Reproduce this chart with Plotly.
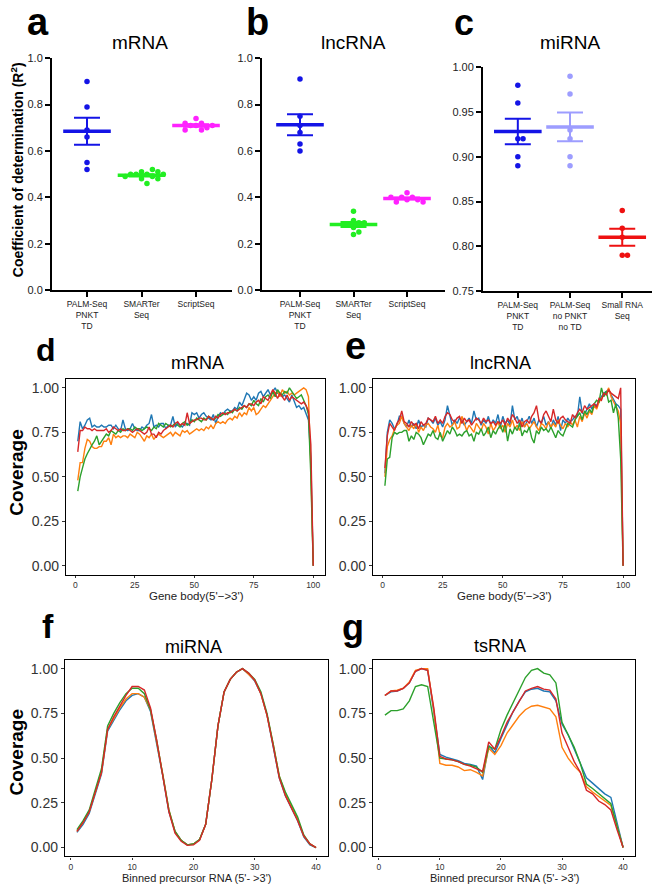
import plotly.graph_objects as go
import numpy as np

W, H = 654, 885

# ---------------- Panel a-c data (R^2) ----------------
cats_ab = ["PALM-Seq<br>PNKT<br>TD", "SMARTer<br>Seq", "ScriptSeq"]
cats_c = ["PALM-Seq<br>PNKT<br>TD", "PALM-Seq<br>no PNKT<br>no TD", "Small RNA<br>Seq"]

a_palm = [0.90, 0.79, 0.69, 0.66, 0.55, 0.52]
a_smarter = [0.51, 0.50, 0.50, 0.49, 0.48, 0.52, 0.46, 0.50, 0.51, 0.49, 0.50, 0.48]
a_script = [0.74, 0.72, 0.71, 0.71, 0.70, 0.69, 0.69, 0.71, 0.72]

b_palm = [0.91, 0.75, 0.71, 0.68, 0.63, 0.60]
b_smarter = [0.34, 0.30, 0.29, 0.28, 0.27, 0.25, 0.24, 0.29]
b_script = [0.42, 0.40, 0.40, 0.39, 0.39, 0.38, 0.38, 0.40]

c_palm = [0.98, 0.96, 0.92, 0.92, 0.90, 0.89]
c_palm_no = [0.99, 0.97, 0.93, 0.92, 0.90, 0.89]
c_small = [0.84, 0.82, 0.81, 0.79, 0.79]

dot_colors_ab = ["#1414e6", "#22ee22", "#ff22ff"]
dot_colors_c = ["#1414e6", "#9d9dff", "#ee1111"]

# ---------------- Panel d-g data (coverage) ----------------
d_blue = [0.70, 0.81, 0.77, 0.79, 0.82, 0.83, 0.78, 0.79, 0.78, 0.78,
          0.79, 0.78, 0.78, 0.79, 0.79, 0.77, 0.79, 0.77, 0.76, 0.82,
          0.77, 0.76, 0.77, 0.80, 0.77, 0.76, 0.76, 0.78, 0.77, 0.79,
          0.80, 0.85, 0.78, 0.79, 0.78, 0.80, 0.80, 0.77, 0.79, 0.79,
          0.84, 0.78, 0.80, 0.79, 0.78, 0.80, 0.80, 0.79, 0.86, 0.85,
          0.86, 0.83, 0.85, 0.86, 0.84, 0.83, 0.82, 0.85, 0.80, 0.84,
          0.86, 0.85, 0.87, 0.88, 0.87, 0.87, 0.89, 0.88, 0.92, 0.90,
          0.93, 0.97, 0.96, 0.93, 0.95, 0.93, 0.97, 0.98, 0.95, 0.97,
          0.99, 0.96, 0.98, 1.00, 0.97, 0.97, 0.95, 0.96, 0.94, 0.92,
          0.96, 0.93, 0.89, 0.90, 0.88, 0.89, 0.86, 0.82, 0.60, 0.00]
d_red = [0.64, 0.76, 0.76, 0.78, 0.77, 0.77, 0.76, 0.77, 0.76, 0.76,
         0.76, 0.76, 0.77, 0.75, 0.76, 0.78, 0.77, 0.76, 0.77, 0.76,
         0.76, 0.77, 0.76, 0.75, 0.76, 0.77, 0.76, 0.75, 0.74, 0.75,
         0.78, 0.74, 0.74, 0.72, 0.75, 0.74, 0.76, 0.77, 0.78, 0.79,
         0.78, 0.80, 0.81, 0.79, 0.80, 0.79, 0.86, 0.80, 0.81, 0.82,
         0.82, 0.83, 0.83, 0.82, 0.82, 0.84, 0.83, 0.82, 0.84, 0.83,
         0.85, 0.86, 0.85, 0.86, 0.86, 0.87, 0.88, 0.87, 0.88, 0.89,
         0.90, 0.89, 0.91, 0.91, 0.90, 0.92, 0.93, 0.91, 0.95, 0.94,
         0.93, 0.96, 0.99, 0.97, 0.94, 0.97, 0.95, 0.93, 0.96, 0.93,
         0.95, 0.94, 0.93, 0.92, 0.91, 0.92, 0.90, 0.87, 0.68, 0.00]
d_orange = [0.48, 0.58, 0.58, 0.66, 0.71, 0.70, 0.67, 0.66, 0.66, 0.67,
            0.67, 0.70, 0.70, 0.72, 0.68, 0.74, 0.72, 0.73, 0.72, 0.73,
            0.73, 0.72, 0.74, 0.73, 0.72, 0.75, 0.74, 0.72, 0.70, 0.73,
            0.72, 0.74, 0.71, 0.73, 0.74, 0.73, 0.72, 0.73, 0.74, 0.75,
            0.73, 0.75, 0.74, 0.73, 0.76, 0.75, 0.76, 0.74, 0.75, 0.76,
            0.77, 0.76, 0.77, 0.76, 0.78, 0.77, 0.79, 0.77, 0.80, 0.81,
            0.80, 0.81, 0.80, 0.82, 0.83, 0.82, 0.84, 0.83, 0.86, 0.84,
            0.86, 0.85, 0.89, 0.87, 0.89, 0.85, 0.86, 0.88, 0.90, 0.89,
            0.91, 0.93, 0.95, 0.97, 0.98, 0.95, 0.99, 0.97, 0.98, 0.96,
            0.97, 0.96, 0.97, 0.98, 0.99, 1.00, 0.99, 0.95, 0.55, 0.00]
d_green = [0.42, 0.50, 0.55, 0.60, 0.63, 0.66, 0.68, 0.70, 0.73, 0.68,
           0.70, 0.72, 0.74, 0.73, 0.76, 0.75, 0.74, 0.76, 0.75, 0.77,
           0.76, 0.77, 0.77, 0.76, 0.78, 0.77, 0.77, 0.76, 0.77, 0.78,
           0.77, 0.76, 0.78, 0.77, 0.80, 0.79, 0.78, 0.80, 0.79, 0.78,
           0.79, 0.80, 0.79, 0.78, 0.80, 0.81, 0.79, 0.80, 0.82, 0.81,
           0.83, 0.82, 0.81, 0.83, 0.82, 0.84, 0.83, 0.82, 0.83, 0.85,
           0.84, 0.85, 0.86, 0.85, 0.87, 0.86, 0.88, 0.87, 0.89, 0.88,
           0.90, 0.89, 0.91, 0.90, 0.93, 0.91, 0.90, 0.94, 0.92, 0.95,
           0.96, 0.94, 0.98, 0.95, 0.99, 0.97, 0.96, 0.98, 0.97, 1.00,
           0.98, 0.96, 0.94, 0.95, 0.96, 0.93, 0.90, 0.85, 0.50, 0.00]

e_blue = [0.52, 0.75, 0.82, 0.80, 0.77, 0.79, 0.84, 0.84, 0.80, 0.78,
          0.82, 0.78, 0.80, 0.77, 0.82, 0.78, 0.79, 0.78, 0.83, 0.82,
          0.80, 0.83, 0.79, 0.81, 0.78, 0.82, 0.90, 0.84, 0.79, 0.82,
          0.80, 0.83, 0.82, 0.79, 0.81, 0.83, 0.80, 0.87, 0.82, 0.83,
          0.79, 0.82, 0.80, 0.84, 0.79, 0.82, 0.80, 0.85, 0.78, 0.84,
          0.80, 0.82, 0.79, 0.90, 0.82, 0.84, 0.79, 0.83, 0.78, 0.81,
          0.84, 0.80, 0.83, 0.78, 0.82, 0.80, 0.84, 0.79, 0.81, 0.77,
          0.82, 0.79, 0.84, 0.76, 0.82, 0.80, 0.83, 0.81, 0.82, 0.84,
          0.84, 0.95, 0.86, 0.85, 0.88, 0.91, 0.88, 0.91, 0.90, 0.93,
          0.95, 0.97, 0.98, 0.99, 0.96, 0.93, 0.91, 0.90, 0.88, 0.00]
e_red = [0.55, 0.73, 0.80, 0.78, 0.76, 0.80, 0.82, 0.87, 0.81, 0.80,
         0.78, 0.81, 0.79, 0.80, 0.77, 0.81, 0.79, 0.80, 0.83, 0.82,
         0.81, 0.84, 0.80, 0.82, 0.80, 0.84, 0.86, 0.85, 0.82, 0.81,
         0.83, 0.84, 0.80, 0.83, 0.81, 0.82, 0.79, 0.81, 0.83, 0.82,
         0.80, 0.83, 0.81, 0.82, 0.80, 0.81, 0.79, 0.81, 0.80, 0.82,
         0.79, 0.83, 0.81, 0.85, 0.83, 0.80, 0.82, 0.78, 0.81, 0.82,
         0.80, 0.84, 0.86, 0.90, 0.82, 0.80, 0.85, 0.87, 0.84, 0.81,
         0.88, 0.82, 0.80, 0.83, 0.84, 0.82, 0.81, 0.80, 0.85, 0.83,
         0.86, 0.88, 0.86, 0.90, 0.88, 0.89, 0.90, 0.91, 0.89, 0.94,
         0.93, 0.97, 0.96, 0.99, 0.97, 0.96, 0.95, 0.94, 1.00, 0.00]
e_orange = [0.50, 0.67, 0.71, 0.73, 0.77, 0.79, 0.80, 0.84, 0.80, 0.78,
            0.76, 0.79, 0.77, 0.80, 0.75, 0.78, 0.76, 0.79, 0.80, 0.78,
            0.77, 0.75, 0.79, 0.73, 0.72, 0.78, 0.80, 0.78, 0.79, 0.81,
            0.77, 0.78, 0.84, 0.80, 0.76, 0.79, 0.77, 0.75, 0.80, 0.78,
            0.76, 0.80, 0.78, 0.74, 0.80, 0.76, 0.78, 0.81, 0.77, 0.79,
            0.75, 0.80, 0.78, 0.82, 0.77, 0.79, 0.76, 0.81, 0.78, 0.80,
            0.77, 0.79, 0.81, 0.78, 0.76, 0.80, 0.79, 0.77, 0.81, 0.78,
            0.80, 0.78, 0.82, 0.79, 0.77, 0.80, 0.78, 0.81, 0.79, 0.82,
            0.78, 0.84, 0.81, 0.86, 0.83, 0.87, 0.85, 0.90, 0.88, 0.92,
            0.94, 0.96, 0.97, 1.00, 0.95, 0.92, 0.90, 0.87, 0.80, 0.00]
e_green = [0.45, 0.60, 0.61, 0.72, 0.75, 0.74, 0.75, 0.75, 0.76, 0.76,
           0.70, 0.73, 0.71, 0.75, 0.74, 0.72, 0.68, 0.71, 0.74, 0.73,
           0.76, 0.72, 0.71, 0.75, 0.70, 0.73, 0.76, 0.74, 0.78, 0.76,
           0.73, 0.74, 0.73, 0.75, 0.76, 0.73, 0.74, 0.70, 0.75, 0.74,
           0.77, 0.73, 0.75, 0.78, 0.72, 0.76, 0.74, 0.77, 0.79, 0.75,
           0.80, 0.70, 0.77, 0.74, 0.78, 0.76, 0.80, 0.73, 0.76, 0.75,
           0.78, 0.72, 0.69, 0.76, 0.74, 0.78, 0.76, 0.77, 0.75, 0.78,
           0.75, 0.72, 0.76, 0.74, 0.73, 0.77, 0.80, 0.79, 0.78, 0.82,
           0.84, 0.86, 0.82, 0.87, 0.85, 0.88, 0.86, 0.91, 0.93, 0.92,
           1.00, 0.95, 0.98, 0.92, 0.93, 0.86, 0.91, 0.83, 0.60, 0.00]

f_blue = [0.085, 0.13, 0.19, 0.30, 0.41, 0.65, 0.71, 0.77, 0.82, 0.85,
          0.86, 0.84, 0.76, 0.59, 0.40, 0.20, 0.09, 0.04, 0.015, 0.02,
          0.045, 0.13, 0.38, 0.68, 0.87, 0.94, 0.98, 1.00, 0.97, 0.93,
          0.86, 0.74, 0.57, 0.39, 0.29, 0.22, 0.15, 0.06, 0.015, 0.00]
f_orange = [0.09, 0.14, 0.20, 0.31, 0.42, 0.66, 0.72, 0.78, 0.83, 0.86,
            0.86, 0.84, 0.77, 0.60, 0.41, 0.21, 0.09, 0.04, 0.015, 0.02,
            0.045, 0.13, 0.38, 0.68, 0.87, 0.94, 0.98, 1.00, 0.97, 0.935,
            0.86, 0.74, 0.58, 0.40, 0.30, 0.23, 0.16, 0.065, 0.02, 0.00]
f_green = [0.10, 0.15, 0.21, 0.33, 0.44, 0.68, 0.75, 0.81, 0.86, 0.89,
           0.89, 0.86, 0.77, 0.60, 0.40, 0.21, 0.09, 0.04, 0.015, 0.02,
           0.045, 0.13, 0.38, 0.68, 0.87, 0.94, 0.98, 1.00, 0.975, 0.94,
           0.87, 0.75, 0.58, 0.40, 0.31, 0.24, 0.17, 0.07, 0.02, 0.00]
f_red = [0.09, 0.14, 0.20, 0.31, 0.42, 0.66, 0.73, 0.79, 0.85, 0.90,
         0.90, 0.88, 0.78, 0.60, 0.40, 0.20, 0.08, 0.035, 0.012, 0.015,
         0.04, 0.13, 0.38, 0.68, 0.87, 0.94, 0.98, 1.00, 0.975, 0.935,
         0.86, 0.74, 0.57, 0.39, 0.29, 0.22, 0.15, 0.065, 0.02, 0.00]

g_blue = [0.85, 0.87, 0.875, 0.89, 0.92, 0.985, 1.00, 0.99, 0.76, 0.52,
          0.505, 0.495, 0.485, 0.47, 0.465, 0.455, 0.38, 0.57, 0.53, 0.61,
          0.69, 0.76, 0.82, 0.87, 0.885, 0.89, 0.875, 0.87, 0.82, 0.69,
          0.63, 0.55, 0.47, 0.39, 0.36, 0.33, 0.30, 0.28, 0.14, 0.00]
g_orange = [0.85, 0.875, 0.88, 0.89, 0.925, 0.99, 1.00, 1.00, 0.77, 0.47,
            0.46, 0.46, 0.45, 0.43, 0.435, 0.42, 0.40, 0.555, 0.52, 0.57,
            0.64, 0.69, 0.735, 0.77, 0.79, 0.795, 0.785, 0.775, 0.73, 0.56,
            0.50, 0.455, 0.42, 0.34, 0.31, 0.285, 0.26, 0.235, 0.12, 0.00]
g_green = [0.74, 0.765, 0.765, 0.775, 0.82, 0.90, 0.91, 0.90, 0.70, 0.50,
           0.495, 0.49, 0.48, 0.465, 0.46, 0.45, 0.42, 0.565, 0.55, 0.66,
           0.74, 0.81, 0.88, 0.95, 0.99, 1.00, 0.975, 0.965, 0.92, 0.70,
           0.63, 0.56, 0.47, 0.355, 0.33, 0.30, 0.27, 0.245, 0.12, 0.00]
g_red = [0.85, 0.875, 0.875, 0.89, 0.92, 0.985, 1.00, 0.99, 0.78, 0.51,
         0.495, 0.49, 0.48, 0.465, 0.455, 0.44, 0.425, 0.59, 0.55, 0.62,
         0.70, 0.76, 0.82, 0.875, 0.89, 0.90, 0.885, 0.88, 0.83, 0.64,
         0.56, 0.48, 0.42, 0.32, 0.30, 0.26, 0.24, 0.21, 0.10, 0.00]

line_colors = {"blue": "#1f77b4", "orange": "#ff7f0e", "green": "#2ca02c", "red": "#d62728"}

FONT = "Arial, Liberation Sans, Helvetica, sans-serif"


def fx(px):
    return px / W


def fy(py):
    # empirical correction of vertical placement in the rendered page
    py = (py - 5.7) / 0.9874
    return 1 - py / H


def swarm(vals, dy, dx):
    placed, xs = [], []
    for v in vals:
        chosen = 0.0
        for k in [0, 1, -1, 2, -2, 3, -3, 4, -4, 5, -5]:
            c = k * dx
            if all(not (abs(c - px) < dx * 0.999 and abs(v - pv) < dy) for px, pv in placed):
                chosen = c
                break
        placed.append((chosen, v))
        xs.append(chosen)
    return xs


fig = go.Figure()
layout = {}

# ---------------- dot panels ----------------
dot_panels = [
    (1, [a_palm, a_smarter, a_script], dot_colors_ab, cats_ab, (52, 232), (58, 290), [0, 1],
     [0, 0.2, 0.4, 0.6, 0.8, 1.0], ".1f", (-0.642, 2.66)),
    (2, [b_palm, b_smarter, b_script], dot_colors_ab, cats_ab, (262, 445), (58, 290), [0, 1],
     [0, 0.2, 0.4, 0.6, 0.8, 1.0], ".1f", (-0.71, 2.71)),
    (3, [c_palm, c_palm_no, c_small], dot_colors_c, cats_c, (483, 652), (67, 291), [0.75, 1.0],
     [0.75, 0.80, 0.85, 0.90, 0.95, 1.00], ".2f", (-0.667, 2.57)),
]

for idx, groups, cols, cats, xd, yd, yr, tv, fmt, xr in dot_panels:
    xa = "x" if idx == 1 else f"x{idx}"
    ya = "y" if idx == 1 else f"y{idx}"
    span = yr[1] - yr[0]
    for i, (vals, col) in enumerate(zip(groups, cols)):
        offs = swarm(vals, dy=span * 0.022, dx=0.1)
        fig.add_trace(go.Scatter(
            x=[i + o for o in offs], y=vals, mode="markers", xaxis=xa, yaxis=ya,
            marker=dict(color=col, size=5.5, line=dict(width=0)), showlegend=False))
        arr = np.array(vals)
        m = arr.mean()
        sem = arr.std(ddof=1) / np.sqrt(len(arr))
        fig.add_trace(go.Scatter(
            x=[i], y=[m], mode="markers", xaxis=xa, yaxis=ya,
            marker=dict(symbol="line-ew", size=34, color=col, line=dict(width=3.5, color=col)),
            error_y=dict(type="data", array=[sem], visible=True, color=col, thickness=2, width=13),
            showlegend=False))
    xkey = "xaxis" if idx == 1 else f"xaxis{idx}"
    ykey = "yaxis" if idx == 1 else f"yaxis{idx}"
    layout[xkey] = dict(domain=[fx(xd[0]), fx(xd[1])], anchor=ya, range=list(xr),
                        tickvals=[0, 1, 2], ticktext=cats, ticks="outside", ticklen=5,
                        tickwidth=1.5, tickcolor="black", showline=True, linecolor="black",
                        linewidth=2, showgrid=False, zeroline=False,
                        tickfont=dict(size=8.5, color="#222", family=FONT))
    layout[ykey] = dict(domain=[fy(yd[1]), fy(yd[0])], anchor=xa, range=yr, tickvals=tv,
                        tickformat=fmt, ticks="outside", ticklen=5, tickwidth=1.5,
                        tickcolor="black", showline=True, linecolor="black", linewidth=2,
                        showgrid=False, zeroline=False,
                        tickfont=dict(size=11, color="#222", family=FONT))

# ---------------- coverage panels ----------------
cov_panels = [
    (4, {"blue": d_blue, "orange": d_orange, "green": d_green, "red": d_red},
     (66, 325), (379, 575), [-3.95, 104.95], [0, 25, 50, 75, 100]),
    (5, {"blue": e_blue, "orange": e_orange, "green": e_green, "red": e_red},
     (373, 635), (379, 575), [-3.95, 104.95], [0, 25, 50, 75, 100]),
    (6, {"blue": f_blue, "orange": f_orange, "green": f_green, "red": f_red},
     (65, 328), (660, 857), [-0.95, 41.95], [0, 10, 20, 30, 40]),
    (7, {"blue": g_blue, "orange": g_orange, "green": g_green, "red": g_red},
     (373, 635), (660, 857), [-0.95, 41.95], [0, 10, 20, 30, 40]),
]

for idx, series, xd, yd, xr, xtv in cov_panels:
    xa, ya = f"x{idx}", f"y{idx}"
    for name in ["blue", "orange", "green", "red"]:
        vals = series[name]
        fig.add_trace(go.Scatter(
            x=list(range(1, len(vals) + 1)), y=vals, mode="lines", xaxis=xa, yaxis=ya,
            line=dict(color=line_colors[name], width=1.4), showlegend=False))
    layout[f"xaxis{idx}"] = dict(domain=[fx(xd[0]), fx(xd[1])], anchor=ya, range=xr,
                                 tickvals=xtv, ticks="outside", ticklen=2, tickcolor="#333",
                                 showline=True, mirror=True, linecolor="black", linewidth=1.3,
                                 showgrid=False, zeroline=False,
                                 tickfont=dict(size=8.5, color="#333", family=FONT))
    layout[f"yaxis{idx}"] = dict(domain=[fy(yd[1]), fy(yd[0])], anchor=xa, range=[-0.05, 1.05],
                                 tickvals=[0, 0.25, 0.5, 0.75, 1.0], tickformat=".2f",
                                 ticks="outside", ticklen=3, tickcolor="#333",
                                 showline=True, mirror=True, linecolor="black", linewidth=1.3,
                                 showgrid=False, zeroline=False,
                                 tickfont=dict(size=14, color="#333", family=FONT))

# ---------------- annotations ----------------
ann = []


def text(t, x, y, size, bold=False, angle=0, xanchor="center", yanchor="middle", color="black"):
    ann.append(dict(text=f"<b>{t}</b>" if bold else t, x=fx(x), y=fy(y), xref="paper",
                    yref="paper", showarrow=False, textangle=angle, xanchor=xanchor,
                    yanchor=yanchor, font=dict(size=size, color=color, family=FONT)))


# panel letters
for letter, x, y, s in [("a", 38, 22, 38), ("b", 257, 22, 38), ("c", 464, 22, 36),
                        ("d", 46, 350, 32), ("e", 355, 346, 38), ("f", 48, 626, 34),
                        ("g", 353, 628, 36)]:
    text(letter, x, y, s, bold=True)

# titles
for t, x, y, s in [("mRNA", 140, 42, 19), ("lncRNA", 353, 42, 19), ("miRNA", 570, 42, 19),
                   ("mRNA", 197, 363, 18), ("lncRNA", 500, 363, 18),
                   ("miRNA", 193, 647, 18), ("tsRNA", 500, 646, 18)]:
    text(t, x, y, s)

# y-axis titles
text("Coefficient of determination (R<sup>2</sup>)", 17, 170, 14, bold=True, angle=-90)
text("Coverage", 17, 473, 19, bold=True, angle=-90)
text("Coverage", 17, 753, 19, bold=True, angle=-90)

# x-axis titles
text("Gene body(5'\u2212>3')", 196, 596, 11.5, color="#222")
text("Gene body(5'\u2212>3')", 504, 596, 11.5, color="#222")
text("Binned precursor RNA (5'- >3')", 196, 878.5, 11, color="#222")
text("Binned precursor RNA (5'- >3')", 504, 878.5, 11, color="#222")

fig.update_layout(
    width=W, height=H, margin=dict(l=0, r=0, t=0, b=0), autosize=False,
    paper_bgcolor="white", plot_bgcolor="white", showlegend=False,
    font=dict(family=FONT, color="black"), annotations=ann, **layout)

fig.write_html("out.html", config={"displayModeBar": False},
               post_script="document.body.style.margin='0px';document.body.style.padding='0px';")
